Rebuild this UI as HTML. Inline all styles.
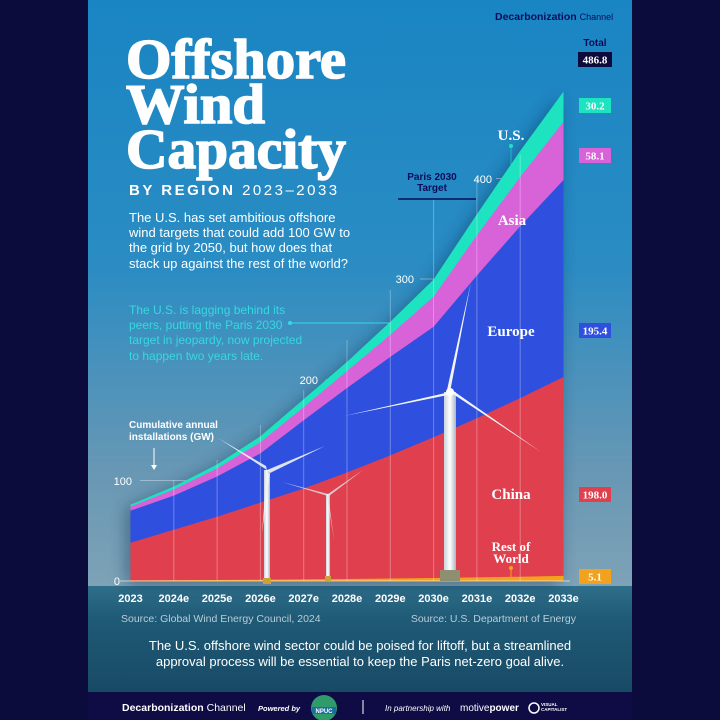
<!DOCTYPE html>
<html><head><meta charset="utf-8"><style>
html,body{margin:0;padding:0;background:#0c0c3c;}
svg{display:block;font-family:"Liberation Sans",sans-serif;}
.ser{font-family:"Liberation Serif",serif;font-weight:bold;}
</style></head><body>
<svg width="720" height="720" viewBox="0 0 720 720" xmlns="http://www.w3.org/2000/svg">
<defs>
<linearGradient id="sky" x1="0" y1="0" x2="0" y2="1">
<stop offset="0" stop-color="#1985c3"/>
<stop offset="0.45" stop-color="#2a8cc3"/>
<stop offset="0.8" stop-color="#6797b4"/>
<stop offset="1" stop-color="#7ea2b6"/>
</linearGradient>
<linearGradient id="sea" x1="0" y1="0" x2="0" y2="1">
<stop offset="0" stop-color="#2f6f8a"/>
<stop offset="0.3" stop-color="#1f5a76"/>
<stop offset="1" stop-color="#184a65"/>
</linearGradient>
<linearGradient id="tower" x1="0" y1="0" x2="1" y2="0">
<stop offset="0" stop-color="#c9d3db"/><stop offset="0.5" stop-color="#ffffff"/><stop offset="1" stop-color="#a9b5c0"/>
</linearGradient>
<filter id="sh" x="-20%" y="-20%" width="140%" height="140%"><feGaussianBlur stdDeviation="8"/></filter>
</defs>
<rect x="0" y="0" width="720" height="720" fill="#0c0c3c"/>
<rect x="88" y="0" width="544" height="586" fill="url(#sky)"/>
<rect x="88" y="586" width="544" height="106" fill="url(#sea)"/>
<rect x="88" y="692" width="544" height="28" fill="#0e0b45"/>

<polygon points="130.5,581 130.5,504.6 173.8,486.5 217.1,464.4 260.4,436.3 303.7,399.1 347,361.9 390.3,321.7 433.6,279.5 476.9,214.2 520.2,150.9 563.5,91.6 563.5,581" fill="#0a2a50" opacity="0.45" filter="url(#sh)" transform="translate(-4,4)"/>

<g stroke="#ffffff" stroke-opacity="0.35" stroke-width="1">
<line x1="140" y1="480.5" x2="563" y2="480.5"/>
<line x1="325" y1="380" x2="563" y2="380"/>
<line x1="420" y1="279" x2="563" y2="279"/>
<line x1="496" y1="178.5" x2="563" y2="178.5"/>
</g>
<g fill="#ffffff" font-size="11" text-anchor="end">
<text x="132" y="485">100</text>
<text x="318" y="384">200</text>
<text x="414" y="283">300</text>
<text x="492" y="183">400</text>
<text x="120" y="585">0</text>
</g>

<polygon fill="#1de3c0" points="130.5,581 130.5,504.6 173.8,486.5 217.1,464.4 260.4,436.3 303.7,399.1 347,361.9 390.3,321.7 433.6,279.5 476.9,214.2 520.2,150.9 563.5,91.6 563.5,581"/>
<polygon fill="#d862d8" points="130.5,581 130.5,506.6 173.8,489.5 217.1,468.4 260.4,442.3 303.7,407.1 347,371 390.3,334.8 433.6,296.6 476.9,235.3 520.2,177 563.5,121.7 563.5,581"/>
<polygon fill="#2f4fdf" points="130.5,581 130.5,510.7 173.8,495.6 217.1,476.5 260.4,453.4 303.7,420.2 347,388 390.3,356.9 433.6,326.7 476.9,275.5 520.2,226.2 563.5,180 563.5,581"/>
<polygon fill="#e0404e" points="130.5,581 130.5,542.8 173.8,529.7 217.1,516.7 260.4,502.6 303.7,488.5 347,472.5 390.3,455.4 433.6,437.3 476.9,418.2 520.2,398.1 563.5,377 563.5,581"/>
<polygon fill="#f2a21c" points="130.5,581 130.5,580.5 173.8,580.2 217.1,580 260.4,579.7 303.7,579.4 347,579 390.3,578.5 433.6,578 476.9,577.4 520.2,576.7 563.5,575.9 563.5,581"/>

<g stroke="#ffffff" stroke-opacity="0.3" stroke-width="1">
<line x1="173.8" y1="480" x2="173.8" y2="581"/>
<line x1="217.1" y1="460" x2="217.1" y2="581"/>
<line x1="260.4" y1="425" x2="260.4" y2="581"/>
<line x1="303.7" y1="390" x2="303.7" y2="581"/>
<line x1="347" y1="340" x2="347" y2="581"/>
<line x1="390.3" y1="290" x2="390.3" y2="581"/>
<line x1="433.6" y1="199" x2="433.6" y2="581"/>
<line x1="476.9" y1="178" x2="476.9" y2="581"/>
<line x1="520.2" y1="155" x2="520.2" y2="581"/>
</g>
<line x1="120" y1="581" x2="570" y2="581" stroke="#ffffff" stroke-opacity="0.6"/>

<g>
<rect x="264" y="470" width="6" height="111" fill="url(#tower)"/>
<path d="M267,470 L218,438 L266,466 Z M267,470 L325,446 L268,474 Z M267,470 L262,533 L270,472 Z" fill="#eef3f7" opacity="0.9"/>
<rect x="263" y="578" width="8" height="6" fill="#c9a23a"/>
<rect x="326" y="494" width="4" height="87" fill="url(#tower)"/>
<path d="M328,494 L282,482 L328,496 Z M328,494 L363,470 L329,496 Z M328,494 L334,540 L327,496 Z" fill="#dfe7ee" opacity="0.8"/>
<rect x="325" y="576" width="6" height="5" fill="#c9a23a"/>
<rect x="444" y="392" width="12" height="189" fill="url(#tower)"/>
<path d="M450,392 L471,282 L447,390 Z M450,392 L344,416 L448,395 Z M450,392 L541,452 L452,390 Z" fill="#f1f5f8"/>
<circle cx="450" cy="392" r="4" fill="#ffffff"/>
<rect x="440" y="570" width="20" height="11" fill="#8e8e70"/>
</g>

<g class="ser" fill="#ffffff" font-size="15" text-anchor="middle">
<text x="511" y="140">U.S.</text>
<text x="512" y="225">Asia</text>
<text x="511" y="336">Europe</text>
<text x="511" y="499">China</text>
<text x="511" y="551" font-size="13">Rest of</text>
<text x="511" y="563" font-size="13">World</text>
</g>
<line x1="511" y1="146" x2="511" y2="178" stroke="#1de3c0" stroke-opacity="0.6"/>
<circle cx="511" cy="146" r="2" fill="#1de3c0"/>
<line x1="511" y1="568" x2="511" y2="578" stroke="#f2a21c"/>
<circle cx="511" cy="568" r="2" fill="#f2a21c"/>

<text x="432" y="180" font-size="10" font-weight="bold" fill="#0c0c5a" text-anchor="middle">Paris 2030</text>
<text x="432" y="191" font-size="10" font-weight="bold" fill="#0c0c5a" text-anchor="middle">Target</text>
<line x1="398" y1="199" x2="476" y2="199" stroke="#0c0c5a" stroke-width="1.5"/>

<text x="129" y="428" font-size="10" font-weight="bold" fill="#ffffff">Cumulative annual</text>
<text x="129" y="440" font-size="10" font-weight="bold" fill="#ffffff">installations (GW)</text>
<line x1="154" y1="448" x2="154" y2="466" stroke="#ffffff" stroke-width="1"/>
<path d="M151,465 L157,465 L154,470 Z" fill="#ffffff"/>

<text x="595" y="46" font-size="10" font-weight="bold" fill="#0c0c5a" text-anchor="middle">Total</text>
<g class="ser" font-size="11" text-anchor="middle" fill="#ffffff">
<rect x="578" y="52" width="34" height="15" fill="#0c0c3c"/><text x="595" y="63.5">486.8</text>
<rect x="579" y="98" width="32" height="15" fill="#1de3c0"/><text x="595" y="109.5">30.2</text>
<rect x="579" y="148" width="32" height="15" fill="#d862d8"/><text x="595" y="159.5">58.1</text>
<rect x="579" y="323" width="32" height="15" fill="#2f4fdf"/><text x="595" y="334.5">195.4</text>
<rect x="579" y="487" width="32" height="15" fill="#e0404e"/><text x="595" y="498.5">198.0</text>
<rect x="579" y="569" width="32" height="15" fill="#f2a21c"/><text x="595" y="580.5">5.1</text>
</g>

<g fill="#ffffff" font-size="11" font-weight="bold" text-anchor="middle">
<text x="130.5" y="602">2023</text><text x="173.8" y="602">2024e</text><text x="217.1" y="602">2025e</text>
<text x="260.4" y="602">2026e</text><text x="303.7" y="602">2027e</text><text x="347" y="602">2028e</text>
<text x="390.3" y="602">2029e</text><text x="433.6" y="602">2030e</text><text x="476.9" y="602">2031e</text>
<text x="520.2" y="602">2032e</text><text x="563.5" y="602">2033e</text>
</g>
<text x="121" y="622" font-size="10.5" fill="#b9cdda">Source: Global Wind Energy Council, 2024</text>
<text x="576" y="622" font-size="10.5" fill="#b9cdda" text-anchor="end">Source: U.S. Department of Energy</text>
<text x="360" y="650" font-size="13" fill="#ffffff" text-anchor="middle">The U.S. offshore wind sector could be poised for liftoff, but a streamlined</text>
<text x="360" y="666" font-size="13" fill="#ffffff" text-anchor="middle">approval process will be essential to keep the Paris net-zero goal alive.</text>

<g class="ser" fill="#ffffff" stroke="#ffffff" stroke-width="1.6" font-size="56">
<text x="126" y="78" textLength="220" lengthAdjust="spacingAndGlyphs">Offshore</text>
<text x="126" y="123" textLength="139" lengthAdjust="spacingAndGlyphs">Wind</text>
<text x="126" y="168" textLength="220" lengthAdjust="spacingAndGlyphs">Capacity</text>
</g>
<text x="129" y="195" font-size="15" fill="#ffffff" letter-spacing="2.5"><tspan font-weight="bold">BY REGION</tspan> 2023–2033</text>
<g font-size="13" fill="#ffffff">
<text x="129" y="222">The U.S. has set ambitious offshore</text>
<text x="129" y="237">wind targets that could add 100 GW to</text>
<text x="129" y="252">the grid by 2050, but how does that</text>
<text x="129" y="268">stack up against the rest of the world?</text>
</g>
<g font-size="12" fill="#36d8e0">
<text x="129" y="314">The U.S. is lagging behind its</text>
<text x="129" y="329">peers, putting the Paris 2030</text>
<text x="129" y="344">target in jeopardy, now projected</text>
<text x="129" y="360">to happen two years late.</text>
</g>
<line x1="290" y1="323" x2="390" y2="323" stroke="#36d8e0" stroke-width="1"/>
<circle cx="290" cy="323" r="2" fill="#36d8e0"/>

<text x="495" y="20" font-size="10.5" font-weight="bold" fill="#0c0c5a">Decarbonization <tspan font-weight="normal" font-size="9">Channel</tspan></text>

<text x="122" y="711" font-size="10.5" font-weight="bold" fill="#ffffff">Decarbonization <tspan font-weight="normal">Channel</tspan></text>
<text x="258" y="711" font-size="7.5" font-weight="bold" font-style="italic" fill="#ffffff">Powered by</text>
<circle cx="324" cy="708" r="13" fill="#2f9a6a"/>
<rect x="312" y="707" width="24" height="7" fill="#1a6fa0"/>
<text x="324" y="713" font-size="6" font-weight="bold" fill="#ffffff" text-anchor="middle">NPUC</text>
<line x1="363" y1="700" x2="363" y2="714" stroke="#ffffff" stroke-width="1"/>
<text x="385" y="711" font-size="8" font-style="italic" fill="#ffffff">In partnership with</text>
<text x="460" y="711" font-size="10" fill="#ffffff">motive<tspan font-weight="bold">power</tspan></text>
<circle cx="534" cy="708" r="5" fill="none" stroke="#ffffff" stroke-width="1.5"/>
<text x="541" y="706" font-size="4.5" font-weight="bold" fill="#ffffff">VISUAL</text>
<text x="541" y="711" font-size="4.5" font-weight="bold" fill="#ffffff">CAPITALIST</text>
</svg>
</body></html>
